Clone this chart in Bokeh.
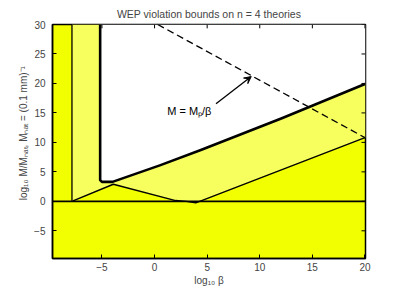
from bokeh.plotting import figure
from bokeh.models import Range1d, Label, Arrow, VeeHead, FixedTicker, Span
from bokeh.embed import file_html
from bokeh.resources import INLINE

# ---- data ----
x_ticks = [-5, 0, 5, 10, 15, 20]
y_ticks = [-5, 0, 5, 10, 15, 20, 25, 30]

# thin vertical bound on the left
left_bound_x = [-7.85, -7.85]
left_bound_y = [0.0, 30.0]

# thick bound
thick_x = [-5.17, -5.17, -5.0, -4.0, 0.5, 4.4, 12.1, 20.0]
thick_y = [30.0, 3.6, 3.3, 3.3, 6.1, 8.7, 14.1, 19.9]

# thin lower bound
thin_x = [-7.75, -3.92, 2.0, 3.0, 3.92, 20.0]
thin_y = [0.08, 2.9, 0.13, 0.0, -0.25, 10.8]

# M = Mp / beta
mp_x = [0.3, 20.0]
mp_y = [30.0, 10.8]

# annotation arrow
arrow_x = [5.84, 9.19]
arrow_y = [16.55, 21.17]

XMIN, XMAX = -9.7, 20.05
YMIN, YMAX = -9.7, 30.0

BRIGHT = "#F2FF00"
LIGHT = "#F6FF5E"
FONT = "Liberation Sans"

p = figure(width=387, height=288, output_backend="svg", toolbar_location=None,
           x_range=Range1d(XMIN, XMAX), y_range=Range1d(YMIN, YMAX),
           min_border_left=52, min_border_right=22, min_border_top=24, min_border_bottom=27)

p.background_fill_color = BRIGHT
p.border_fill_color = "white"
p.grid.visible = False
p.outline_line_color = "black"
p.outline_line_width = 1.5

# regions
white_x = thick_x + [XMAX, XMAX]
white_y = thick_y + [thick_y[-1], YMAX]
p.patch(white_x, white_y, fill_color="white", line_color=None)

light_x = left_bound_x + thick_x + [XMAX, XMAX] + thin_x[::-1]
light_y = left_bound_y + thick_y + [thick_y[-1], thin_y[-1]] + thin_y[::-1]
p.patch(light_x, light_y, fill_color=LIGHT, line_color=None)

# lines
p.add_layout(Span(location=0, dimension="width", line_color="black", line_width=1.6))
p.line(left_bound_x, left_bound_y, line_color="black", line_width=1.3)
p.line(thin_x, thin_y, line_color="black", line_width=1.4)
p.line(thick_x, thick_y, line_color="black", line_width=2.6, line_join="round")
p.line(mp_x, mp_y, line_color="black", line_width=1.3, line_dash="7 4")

p.add_layout(Arrow(end=VeeHead(size=7, fill_color="black", line_color="black", line_width=1),
                   x_start=arrow_x[0], y_start=arrow_y[0], x_end=arrow_x[1], y_end=arrow_y[1],
                   line_color="black", line_width=1.3))

p.add_layout(Label(x=1.2, y=15.3, text="M = Mₚ/β", text_font=FONT, text_font_size="11px",
                   text_baseline="middle", text_align="left", text_color="black"))

# mirrored inward ticks on top and right edges (from the tick lists)
tick_dx = 0.38
tick_dy = 0.65
p.segment(x0=x_ticks, y0=[YMAX] * len(x_ticks), x1=x_ticks, y1=[YMAX - tick_dy] * len(x_ticks),
          line_color="black", line_width=1)
p.segment(x0=[XMAX] * len(y_ticks), y0=y_ticks, x1=[XMAX - tick_dx] * len(y_ticks), y1=y_ticks,
          line_color="black", line_width=1)

# title
p.title.text = "WEP violation bounds on n = 4 theories"
p.title.align = "center"
p.title.text_font = FONT
p.title.text_font_size = "10.5px"
p.title.text_font_style = "normal"
p.title.standoff = 10

# axes
for ax in (p.xaxis[0], p.yaxis[0]):
    ax.major_tick_in = 4
    ax.major_tick_out = 0
    ax.minor_tick_line_color = None
    ax.axis_line_width = 1.5
    ax.major_label_text_font = FONT
    ax.major_label_text_font_size = "10px"
    ax.axis_label_text_font = FONT
    ax.axis_label_text_font_size = "10px"
    ax.axis_label_text_font_style = "normal"
p.xaxis[0].ticker = FixedTicker(ticks=x_ticks)
p.yaxis[0].ticker = FixedTicker(ticks=y_ticks)
p.xaxis[0].major_label_standoff = 4
p.yaxis[0].major_label_standoff = 7
p.xaxis[0].axis_label = "log₁₀ β"
p.xaxis[0].axis_label_standoff = 1
# leading no-break spaces lift the (centred) rotated label, as in the reference
p.yaxis[0].axis_label = "\u00a0" * 6 + "log₁₀ M/Mₙₐₜ, Mₙₐₜ = (0.1 mm)⁻¹"
p.yaxis[0].axis_label_standoff = 2

open("out.html", "w").write(file_html(p, INLINE))
